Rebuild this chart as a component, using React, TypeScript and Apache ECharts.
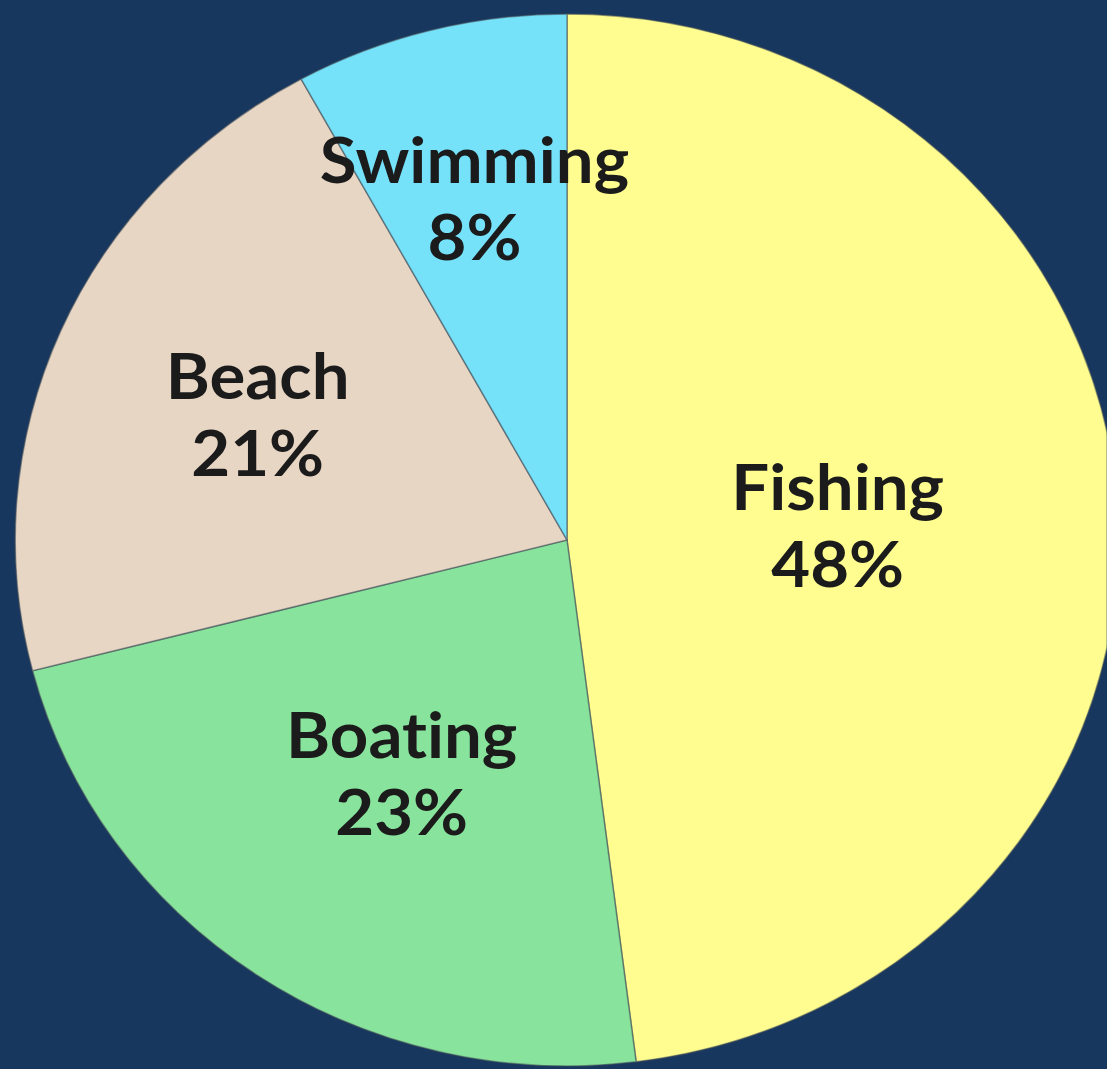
import React, { useEffect, useRef } from "react";
import * as echarts from "echarts";

const categories = ["Fishing", "Boating", "Beach", "Swimming"];
const values = [48, 23, 21, 8];
const colors = ["#FFFD8F", "#88E49C", "#E8D6C5", "#76E2FA"];
// radial position of each label as a fraction of the radius
const labelRadius = [0.486, 0.527, 0.604, 0.667];

const W = 1107;
const H = 1069;
const STRETCH = 1.049; // the reference pie is slightly wider than tall
const CW = W / STRETCH;
const CX = 567 / STRETCH;
const CY = 540;
const R = 526;

export default function App() {
  const ref = useRef<HTMLDivElement>(null);
  useEffect(() => {
    document.body.style.margin = "0";
    document.body.style.overflow = "hidden";
    const chart = echarts.init(ref.current!, null, { renderer: "svg" });
    chart.setOption({
      animation: false,
      backgroundColor: "#17375E",
      series: [
        {
          type: "pie",
          center: [CX, CY],
          radius: [0, R],
          startAngle: 90,
          clockwise: true,
          avoidLabelOverlap: false,
          data: categories.map((name, i) => ({
            name,
            value: values[i],
            itemStyle: { color: colors[i] },
          })),
          itemStyle: {
            borderColor: "rgba(70,80,90,0.55)",
            borderWidth: 1.5,
          },
          label: {
            show: true,
            position: "inside",
            formatter: "{b}\n{d}%",
            color: "#1b1b1b",
            fontFamily: "Lato",
            fontWeight: "bold",
            fontSize: 64,
            lineHeight: 77,
          },
          labelLine: { show: false },
          labelLayout: (p: any) => {
            const lr = p.labelRect;
            const lx = lr.x + lr.width / 2;
            const ly = lr.y + lr.height / 2;
            const f = labelRadius[p.dataIndex] / 0.5 - 1;
            return { dx: (lx - CX) * f, dy: (ly - CY) * f };
          },
        },
      ],
    });
    return () => chart.dispose();
  }, []);
  return (
    <div style={{ width: W, height: H, overflow: "hidden", background: "#17375E" }}>
      <style>{`#root svg text { font-variant-ligatures: none; font-feature-settings: "liga" 0, "clig" 0; }`}</style>
      <div
        ref={ref}
        style={{
          width: CW,
          height: H,
          transform: `scaleX(${STRETCH})`,
          transformOrigin: "0 0",
        }}
      />
    </div>
  );
}
